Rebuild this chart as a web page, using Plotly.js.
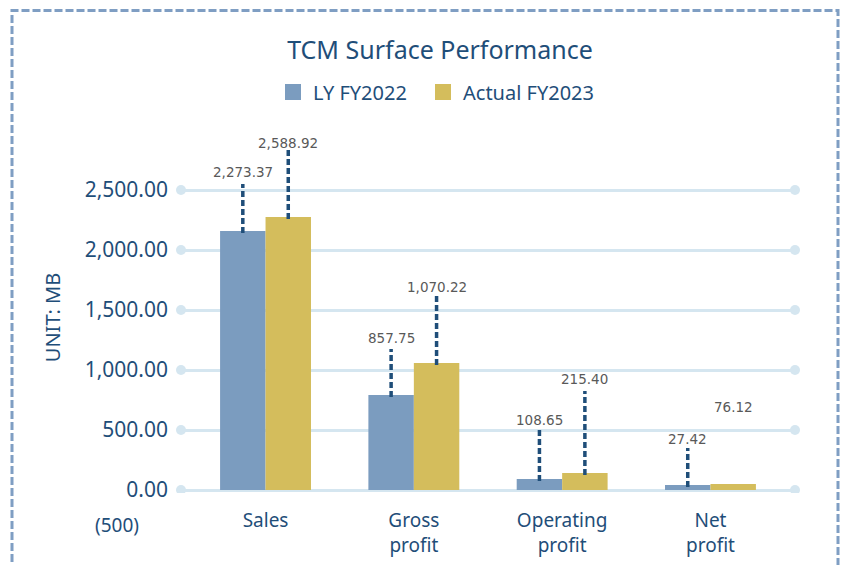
<!DOCTYPE html>
<html><head><meta charset="utf-8">
<script src="https://cdn.plot.ly/plotly-3.0.1.min.js"></script>
<style>html,body{margin:0;padding:0;background:#fff;} #chart{width:841px;height:565px;}</style>
</head><body><div id="chart"></div>
<script>
// ---- data ----
const categories = ["Sales", "Gross<br>profit", "Operating<br>profit", "Net<br>profit"];
const seriesNames = ["LY FY2022", "Actual FY2023"];
const lyBars = [2158, 792, 92, 42];
const actualBars = [2275, 1058, 142, 50];
const lyLabels = [2273.37, 857.75, 108.65, 27.42];
const actualLabels = [2588.92, 1070.22, 215.40, 76.12];
const yTicks = [0, 500, 1000, 1500, 2000, 2500];
const belowAxisLabel = "(500)";

// ---- layout / style ----
const L = 181, R = 795, T = 142, B = 493;
const yRange = [-25, 2900];
const xRange = [-0.57, 3.57];
const bargap = 0.387;
const barOff = (1 - bargap) / 4;
const lyShift = [59, 57, 59, 46], actShift = [74, 76, 94, 77];
const lyLead = [47, 46, 49, 37], actLead = [69, 68, 82, 0];
const blue = "#7b9cbf", gold = "#d4bd5c", dark = "#1f4e79", grid = "#d5e6f0";
const font = "Noto Sans";
const pxX = p => (p - L) / (R - L);
const pxY = p => (B - p) / (B - T);
const fmt = v => v.toLocaleString("en-US", {minimumFractionDigits: 2, maximumFractionDigits: 2});
const idx = categories.map((_, i) => i);

const traces = [
  {type: "bar", x: idx, y: lyBars, name: seriesNames[0], marker: {color: blue}, showlegend: false, hoverinfo: "skip"},
  {type: "bar", x: idx, y: actualBars, name: seriesNames[1], marker: {color: gold}, showlegend: false, hoverinfo: "skip"},
  {type: "scatter", mode: "markers", x: [null], y: [null], name: seriesNames[0], legend: "legend", marker: {symbol: "square", size: 17, color: blue}},
  {type: "scatter", mode: "markers", x: [null], y: [null], name: seriesNames[1], legend: "legend2", marker: {symbol: "square", size: 17, color: gold}}
];

const shapes = [];
const annotations = [];
yTicks.forEach(t => {
  [0, 1].forEach(side => shapes.push({type: "circle", xref: "paper", xsizemode: "pixel", xanchor: side, x0: -5, x1: 5,
    yref: "y", ysizemode: "pixel", yanchor: t, y0: -5, y1: 5, fillcolor: grid, line: {width: 0}, layer: "below"}));
});
function addLabels(vals, bars, shifts, leads, off) {
  vals.forEach((v, i) => {
    const x = i + off;
    if (leads[i] > 0) shapes.push({type: "line", xref: "x", yref: "y", x0: x, x1: x, ysizemode: "pixel", yanchor: bars[i],
      y0: -2, y1: leads[i], line: {color: dark, width: 3.5, dash: "6px,3px"}});
    annotations.push({xref: "x", yref: "y", x: x, y: bars[i], yshift: shifts[i], text: fmt(v), showarrow: false,
      xanchor: "center", yanchor: "middle", font: {family: "DejaVu Sans", size: 13.5, color: "#595959"}});
  });
}
addLabels(lyLabels, lyBars, lyShift, lyLead, -barOff);
addLabels(actualLabels, actualBars, actShift, actLead, barOff);
shapes.push({type: "rect", xref: "paper", yref: "paper", x0: pxX(12), x1: pxX(838), y0: pxY(620), y1: pxY(10.5),
  line: {color: "#7f9ec3", width: 3, dash: "8px,3px"}, fillcolor: "rgba(0,0,0,0)"});
annotations.push({xref: "paper", yref: "paper", x: pxX(117), y: pxY(525), xanchor: "center", yanchor: "middle",
  text: belowAxisLabel, showarrow: false, font: {family: font, size: 19, color: dark}});

const legendBase = {orientation: "h", xanchor: "left", xref: "container", y: 1 - 92 / 565, yanchor: "middle", yref: "container",
  font: {family: font, size: 20, color: dark}, itemsizing: "trace", bgcolor: "rgba(0,0,0,0)"};

const layout = {
  width: 841, height: 565,
  margin: {l: L, r: 841 - R, t: T, b: 565 - B, pad: 0},
  paper_bgcolor: "#fff", plot_bgcolor: "#fff",
  barmode: "group", bargap: bargap, bargroupgap: 0,
  title: {text: "TCM Surface Performance", x: 440 / 841, xanchor: "center", xref: "container", y: 1 - 50 / 565, yanchor: "middle", yref: "container",
    font: {family: font, size: 25, color: dark}},
  legend: Object.assign({}, legendBase, {x: 273 / 841}),
  legend2: Object.assign({}, legendBase, {x: 423 / 841}),
  xaxis: {type: "linear", range: xRange, tickvals: idx, ticktext: categories, showgrid: false, zeroline: false, showline: false,
    ticks: "", ticklabelstandoff: 14, tickfont: {family: font, size: 19, color: dark}, fixedrange: true},
  yaxis: {range: yRange, tickvals: yTicks, tickformat: ",.2f", showgrid: true, gridcolor: grid, gridwidth: 3,
    zeroline: true, zerolinecolor: grid, zerolinewidth: 3, showline: false, ticks: "", ticklabelstandoff: 12,
    tickfont: {family: font, size: 21, color: dark},
    title: {text: "UNIT: MB", standoff: 18, font: {family: font, size: 20, color: dark}}},
  shapes: shapes, annotations: annotations
};
Plotly.newPlot("chart", traces, layout, {displayModeBar: false, staticPlot: true});
</script></body></html>
